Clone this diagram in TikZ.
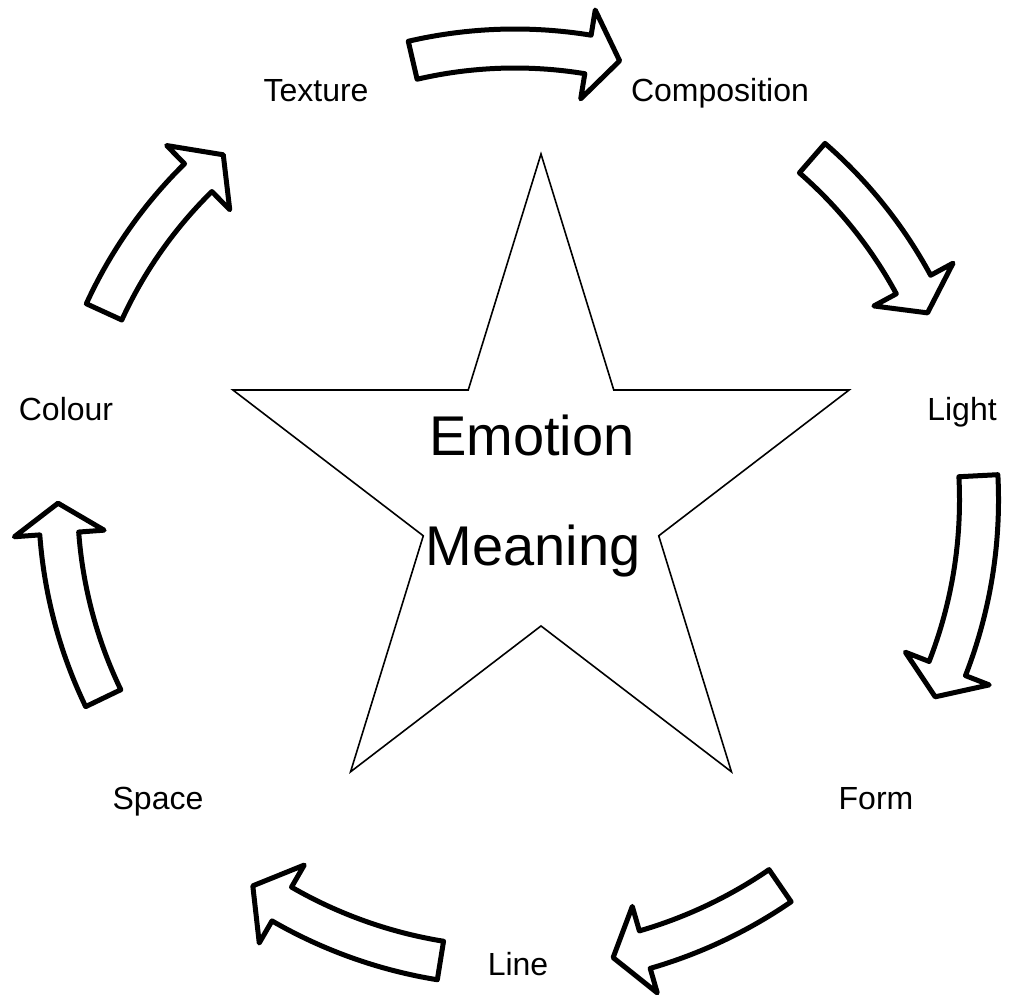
\documentclass[tikz,border=0pt]{standalone}
\usepackage{fontspec}
\setmainfont{Liberation Sans}
\tikzset{
  topic/.style={font=\fontsize{16}{19}\selectfont,anchor=base,inner sep=0pt},
  core/.style={font=\fontsize{28}{34}\selectfont,anchor=base,inner sep=0pt},
  star edge/.style={draw,line width=0.8pt,line join=miter},
  block arrow/.style={draw,fill=white,line width=2.5pt,line join=round}
}
% curved block arrow round the hub: tail angle, head angle, tip angle, mid radius
\newcommand{\cyclearrow}[4]{%
  \pgfmathsetmacro\rin{#4-19.5}%
  \pgfmathsetmacro\rout{#4+19.5}%
  \pgfmathsetmacro\bin{#4-45}%
  \pgfmathsetmacro\bout{#4+45}%
  \draw[block arrow] (#1:\rin) arc[start angle=#1,end angle=#2,radius=\rin]
    -- (#2:\bin) -- (#3:#4) -- (#2:\bout) -- (#2:\rout)
    arc[start angle=#2,end angle=#1,radius=\rout] -- cycle;}

\begin{document}
\begin{tikzpicture}[x=0.5pt,y=-0.5pt]
  \useasboundingbox (0,0) rectangle (1010,994);

  % the star
  \begin{scope}[shift={(541,495.5)},x=162pt,y=170.75pt]
    \draw[star edge] (90:1) -- (126:0.382) -- (162:1) -- (198:0.382) -- (234:1)
      -- (270:0.382) -- (306:1) -- (342:0.382) -- (18:1) -- (54:0.382) -- cycle;
  \end{scope}
  \node[core] (emotion) at (532,455) {Emotion};
  \node[core] (meaning) at (533,565) {Meaning};

  % labels round the ring
  \node[topic] (texture) at (316,101.7) {Texture};
  \node[topic] (composition) at (720,101.7) {Composition};
  \node[topic] (light) at (962,420) {Light};
  \node[topic] (form) at (876,809) {Form};
  \node[topic] (line) at (518,975) {Line};
  \node[topic] (space) at (158,809) {Space};
  \node[topic] (colour) at (66,420) {Colour};

  % arrows
  \begin{scope}[shift={(515,500)},y=0.5pt]
    \cyclearrow{103.1}{80.7}{76.6}{451.5}
    \cyclearrow{49.0}{28.4}{24.4}{453}
    \cyclearrow{3}{-21.3}{-25.1}{464}
    \cyclearrow{-55.5}{-73.9}{-77.9}{468}
    \cyclearrow{-99.2}{-120}{-124.2}{466.5}
    \cyclearrow{-154.3}{-175.8}{-179.6}{457}
    \cyclearrow{155.4}{134.5}{130.2}{452}
  \end{scope}
\end{tikzpicture}
\end{document}
